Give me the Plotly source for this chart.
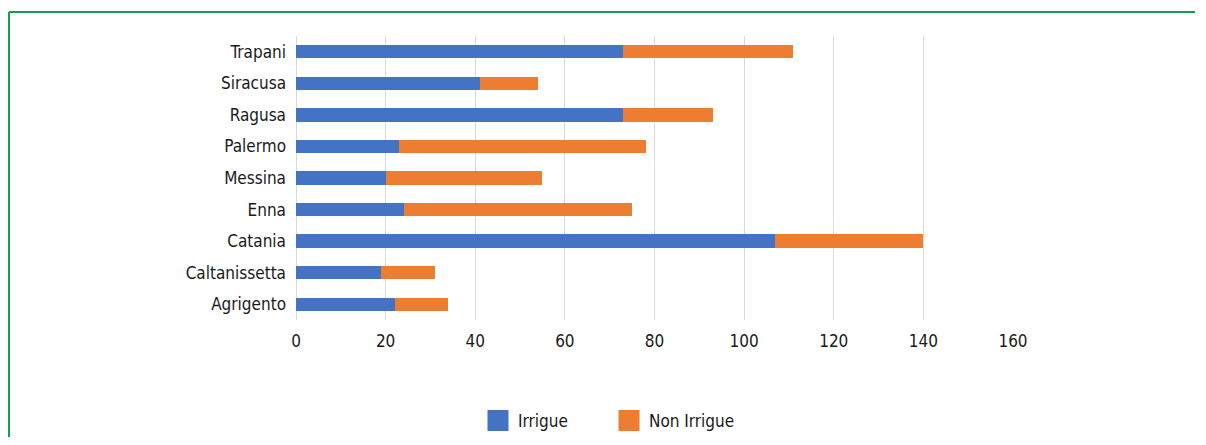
import plotly.graph_objects as go

provinces = ["Agrigento", "Caltanissetta", "Catania", "Enna", "Messina",
             "Palermo", "Ragusa", "Siracusa", "Trapani"]
irrigue = [22, 19, 107, 24, 20, 23, 73, 41, 73]
non_irrigue = [12, 12, 33, 51, 35, 55, 20, 13, 38]
x_ticks = [0, 20, 40, 60, 80, 100, 120, 140, 160]

BLUE = "#4472C4"
ORANGE = "#ED7D31"
FONT = "DejaVu Sans Condensed, Liberation Sans Narrow, Arial Narrow, sans-serif"
FS = 17

W, H = 1190, 429
L, R, T, B = 288, 185, 28, 117
PW, PH = W - L - R, H - T - B

fig = go.Figure()
fig.add_trace(go.Bar(y=provinces, x=irrigue, name="Irrigue", orientation="h",
                     marker=dict(color=BLUE, line=dict(width=0)), showlegend=False))
fig.add_trace(go.Bar(y=provinces, x=non_irrigue, name="Non Irrigue", orientation="h",
                     marker=dict(color=ORANGE, line=dict(width=0)), showlegend=False))
# legend entries with larger square swatches
for nm, col in [("Irrigue", BLUE), ("Non Irrigue", ORANGE)]:
    fig.add_trace(go.Scatter(x=[None], y=[None], mode="markers", name=nm,
                             marker=dict(symbol="square", size=24, color=col,
                                         line=dict(color=col, width=6))))

fig.update_layout(
    barmode="stack",
    bargap=0.58,
    width=W, height=H,
    autosize=False,
    margin=dict(l=L, r=R, t=T, b=B, autoexpand=False),
    paper_bgcolor="white", plot_bgcolor="white",
    font=dict(family=FONT, size=FS, color="#1a1a1a"),
    xaxis=dict(range=[0, 160], tickvals=x_ticks, showgrid=True,
               gridcolor="#d9d9d9", gridwidth=1, zeroline=True,
               zerolinecolor="#d9d9d9", zerolinewidth=1, showline=False,
               tickfont=dict(size=FS), ticks="", tickangle=0, automargin=False,
               ticklabelstandoff=9),
    yaxis=dict(showgrid=False, showline=False, ticks="", ticklabelstandoff=9,
               tickfont=dict(size=FS), zeroline=False, automargin=False,
               categoryorder="array", categoryarray=provinces),
    legend=dict(orientation="h", x=(470 - L) / PW, xanchor="left",
                y=(312 - 413) / PH, yanchor="middle", font=dict(size=FS),
                traceorder="normal", itemsizing="trace",
                entrywidth=86, entrywidthmode="pixels"),
    shapes=[dict(type="line", xref="paper", yref="paper",
                 x0=(1 - L) / PW, x1=(W - 3 - L) / PW,
                 y0=(312 - 4) / PH, y1=(312 - 4) / PH,
                 line=dict(color="#13a052", width=2)),
            dict(type="line", xref="paper", yref="paper",
                 x0=(1 - L) / PW, x1=(1 - L) / PW,
                 y0=(312 - 4) / PH, y1=(312 - H) / PH,
                 line=dict(color="#13a052", width=2))],
)

fig.write_html("out.html")
